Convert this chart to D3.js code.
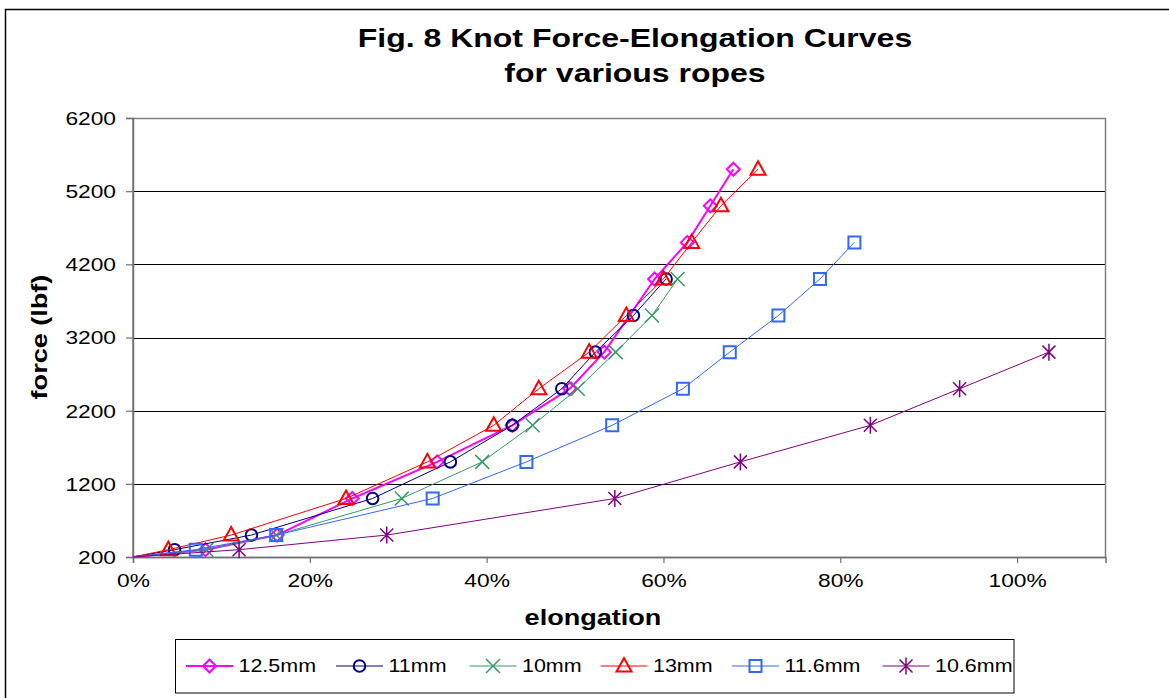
<!DOCTYPE html>
<html>
<head>
<meta charset="utf-8">
<script src="https://cdn.jsdelivr.net/npm/d3@7"></script>
<style>
  html, body { margin: 0; padding: 0; background: #fff; }
  svg { display: block; font-family: Arial, "Liberation Sans", sans-serif; }
</style>
</head>
<body>
<svg id="chart" width="1169" height="698"></svg>
<script>
// ---- data ----
const seriesNames = ["12.5mm", "11mm", "10mm", "13mm", "11.6mm", "10.6mm"];
// elongation (%) and force (lbf) per series
const elong_12_5 = [0, 8.2, 16.3, 24.8, 34.4, 42.9, 49.4, 53.3, 59.0, 62.7, 65.3, 67.9];
const force_12_5 = [200, 300, 500, 1000, 1500, 2000, 2500, 3000, 4000, 4500, 5000, 5500];
const elong_11 = [0, 4.7, 13.4, 27.1, 35.9, 42.9, 48.5, 52.3, 56.6, 60.3];
const force_11 = [200, 300, 500, 1000, 1500, 2000, 2500, 3000, 3500, 4000];
const elong_10 = [0, 8.3, 16.2, 30.4, 39.5, 45.2, 50.3, 54.6, 58.7, 61.6];
const force_10 = [200, 300, 500, 1000, 1500, 2000, 2500, 3000, 3500, 4000];
const elong_13 = [0, 4.0, 11.1, 24.1, 33.3, 40.8, 45.9, 51.6, 55.8, 60.0, 63.2, 66.5, 70.7];
const force_13 = [200, 300, 500, 1000, 1500, 2000, 2500, 3000, 3500, 4000, 4500, 5000, 5500];
const elong_11_6 = [0, 7.1, 16.2, 33.9, 44.5, 54.2, 62.2, 67.5, 73.0, 77.7, 81.6];
const force_11_6 = [200, 300, 500, 1000, 1500, 2000, 2500, 3000, 3500, 4000, 4500];
const elong_10_6 = [0, 12.0, 28.7, 54.5, 68.7, 83.4, 93.5, 103.6];
const force_10_6 = [200, 300, 500, 1000, 1500, 2000, 2500, 3000];

const yTicks = [200, 1200, 2200, 3200, 4200, 5200, 6200];
const xTicks = [0, 20, 40, 60, 80, 100];

const titleLines = ["Fig. 8 Knot Force-Elongation Curves", "for various ropes"];
const xTitle = "elongation";
const yTitle = "force (lbf)";

// ---- styling ----
const colors = ["#FF00FF", "#000080", "#339966", "#FF0000", "#3366FF", "#800080"];
const widths = [2, 1, 1, 1, 1, 1];
const markers = ["diamond", "circle", "x", "triangle", "square", "star"];
const STRETCH = 1.23;        // reference text is rendered horizontally wide
const LEGEND_STRETCH = 1.16;

const allX = [elong_12_5, elong_11, elong_10, elong_13, elong_11_6, elong_10_6];
const allY = [force_12_5, force_11, force_10, force_13, force_11_6, force_10_6];
const series = seriesNames.map((name, i) => ({
  name, color: colors[i], width: widths[i], marker: markers[i],
  points: allX[i].map((x, j) => ({ x, y: allY[i][j] }))
}));

const svg = d3.select("#chart");

// outer chart frame
svg.append("rect").attr("x", 5.5).attr("y", 9.5).attr("width", 1180).attr("height", 700)
  .attr("fill", "#fff").attr("stroke", "#000").attr("stroke-width", 1.5);

const plot = { left: 133, right: 1105.5, top: 118, bottom: 557 };
const x = d3.scaleLinear().domain([0, 110]).range([plot.left, plot.right]);
const y = d3.scaleLinear().domain([200, 6200]).range([plot.bottom, plot.top]);

// gridlines
svg.append("g").selectAll("line").data(yTicks.filter(t => t > 200 && t < 6200)).join("line")
  .attr("x1", plot.left).attr("x2", plot.right)
  .attr("y1", d => Math.round(y(d)) + 0.5).attr("y2", d => Math.round(y(d)) + 0.5)
  .attr("stroke", "#000").attr("stroke-width", 1);

// plot border
svg.append("rect").attr("x", plot.left).attr("y", plot.top + 0.5)
  .attr("width", plot.right - plot.left).attr("height", plot.bottom - plot.top)
  .attr("fill", "none").attr("stroke", "#808080").attr("stroke-width", 1.5);

// axes
const yAxis = d3.axisLeft(y).tickValues(yTicks).tickSize(7).tickPadding(10).tickFormat(d3.format("d"));
const xAxis = d3.axisBottom(x).tickValues(xTicks).tickSize(6).tickPadding(11).tickFormat(d => d + "%");

const gy = svg.append("g").attr("transform", `translate(${plot.left},0)`).call(yAxis);
const gx = svg.append("g").attr("transform", `translate(0,${plot.bottom})`).call(xAxis);
[gy, gx].forEach(g => {
  g.select(".domain").attr("stroke", "#707070").attr("stroke-width", 1.5);
  g.selectAll(".tick line").attr("stroke", "#707070").attr("stroke-width", 1.2);
  g.selectAll(".tick text").attr("fill", "#000").style("font-size", "18.5px")
    .style("font-family", "Arial, 'Liberation Sans', sans-serif");
});
gy.selectAll(".tick text").attr("dy", "0.35em");

// marker shapes
function markerPath(type) {
  switch (type) {
    case "diamond": return "M0,-6.5L6.5,0L0,6.5L-6.5,0Z";
    case "circle": return d3.symbol(d3.symbolCircle, Math.PI * 5.8 * 5.8)();
    case "triangle": return "M0,-8L7.5,5.5L-7.5,5.5Z";
    case "square": return "M-6,-6H6V6H-6Z";
    case "x": return "M-7,-7L7,7M-7,7L7,-7";
    case "star": return "M-6.5,-6.5L6.5,6.5M-6.5,6.5L6.5,-6.5M0,-8.5V8.5";
  }
}

const line = d3.line().x(d => x(d.x)).y(d => y(d.y));

const gSeries = svg.append("g");
series.forEach(s => {
  const g = gSeries.append("g");
  g.append("path").attr("d", line(s.points)).attr("fill", "none")
    .attr("stroke", s.color).attr("stroke-width", s.width).attr("stroke-linejoin", "round");
  g.selectAll("path.mk").data(s.points.filter(p => p.y > 200)).join("path")
    .attr("class", "mk")
    .attr("transform", p => `translate(${x(p.x)},${y(p.y)})`)
    .attr("d", markerPath(s.marker))
    .attr("fill", "none").attr("stroke", s.color)
    .attr("stroke-width", s.marker === "x" || s.marker === "star" ? 1.5 : 2);
});

// titles
titleLines.forEach((t, i) => {
  svg.append("text").attr("x", 635).attr("y", i === 0 ? 47 : 81.5).attr("text-anchor", "middle")
    .style("font-size", "26px").style("font-weight", "bold").attr("fill", "#000").text(t);
});

svg.append("text").attr("x", 593).attr("y", 625).attr("text-anchor", "middle")
  .style("font-size", "22px").style("font-weight", "bold").text(xTitle);

svg.append("text").attr("transform", "translate(47,337) rotate(-90)").attr("text-anchor", "middle")
  .style("font-size", "22px").style("font-weight", "bold").text(yTitle);

// widen all chart text to match the reference's wide glyph rendering
svg.selectAll("text").each(function () {
  const w = this.getComputedTextLength();
  d3.select(this).attr("textLength", w * STRETCH).attr("lengthAdjust", "spacingAndGlyphs");
});

// legend
const legend = svg.append("g");
legend.append("rect").attr("x", 175.5).attr("y", 639.5).attr("width", 838.5).attr("height", 53.5)
  .attr("fill", "#fff").attr("stroke", "#000").attr("stroke-width", 1);
const legendMarkerX = [209.5, 359.5, 493, 624, 755.5, 906];
const legendY = 666;
series.forEach((s, i) => {
  const cx = legendMarkerX[i];
  legend.append("line").attr("x1", cx - 23.5).attr("x2", cx + 23.5).attr("y1", legendY).attr("y2", legendY)
    .attr("stroke", s.color).attr("stroke-width", s.width);
  legend.append("path").attr("transform", `translate(${cx},${legendY})`).attr("d", markerPath(s.marker))
    .attr("fill", "none").attr("stroke", s.color)
    .attr("stroke-width", s.marker === "x" || s.marker === "star" ? 1.5 : 2);
  const t = legend.append("text").attr("x", cx + 29).attr("y", legendY).attr("dy", "0.35em")
    .style("font-size", "18.5px").attr("fill", "#000").text(s.name);
  const w = t.node().getComputedTextLength();
  t.attr("textLength", w * LEGEND_STRETCH).attr("lengthAdjust", "spacingAndGlyphs");
});
</script>
</body>
</html>
